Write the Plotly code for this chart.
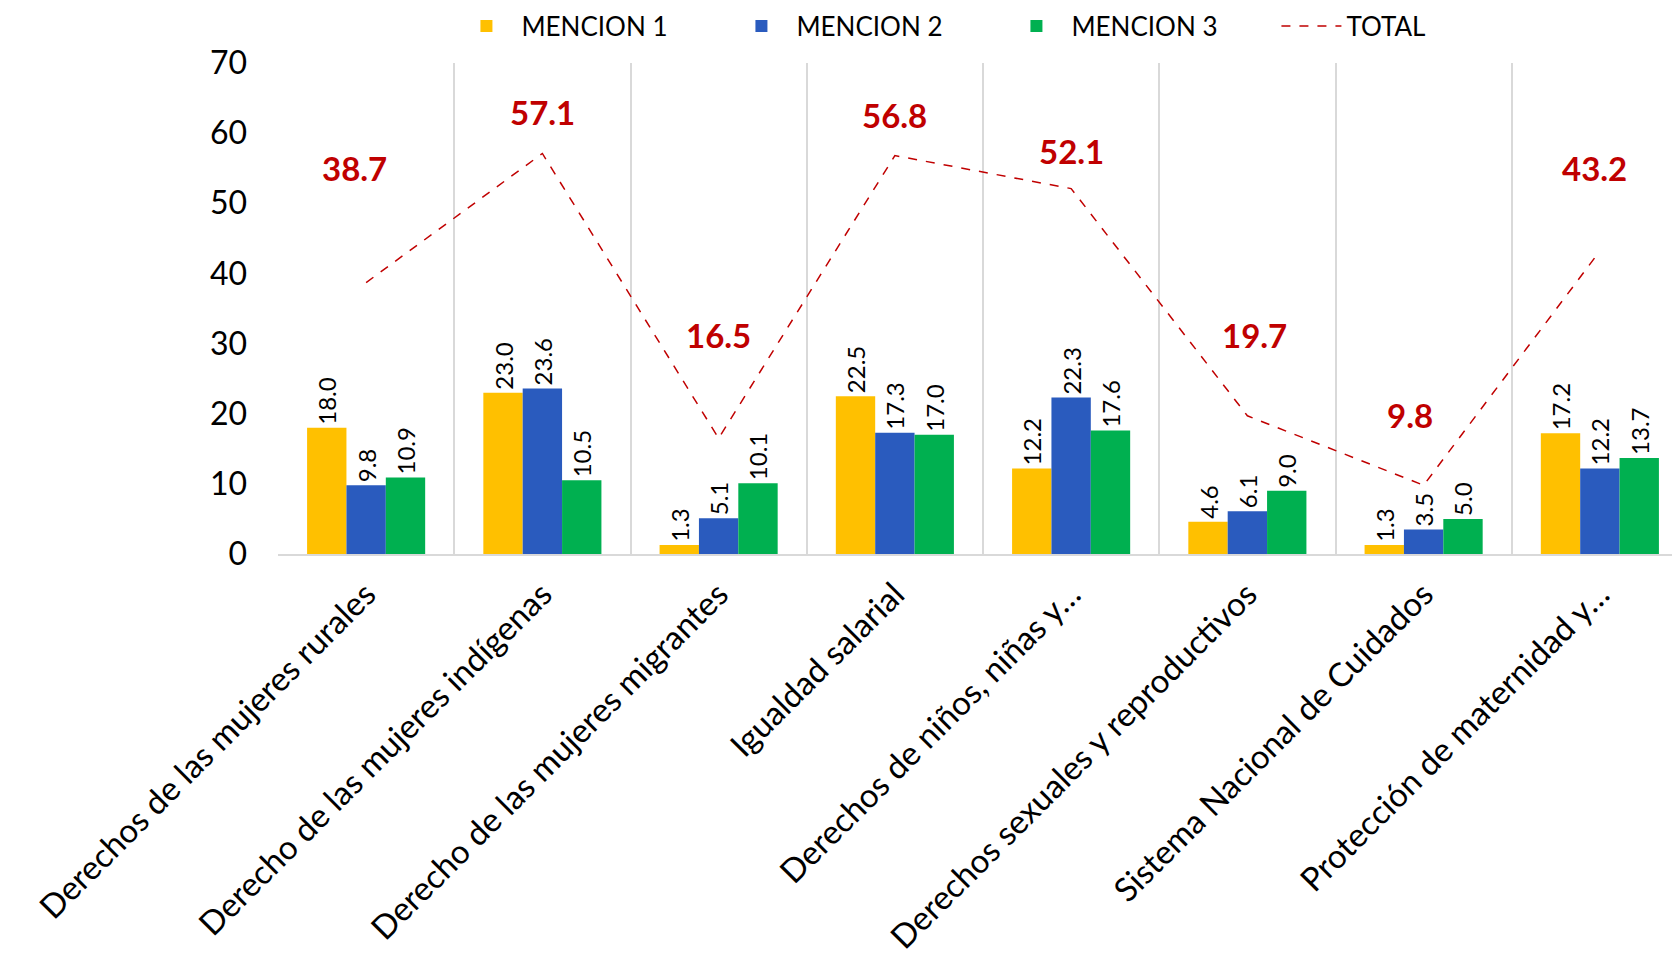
import plotly.graph_objects as go

# datos
categorias = ["Derechos de las mujeres rurales", "Derecho de las mujeres indígenas",
              "Derecho de las mujeres migrantes", "Igualdad salarial",
              "Derechos de niños, niñas y…", "Derechos sexuales y reproductivos",
              "Sistema Nacional de Cuidados", "Protección de maternidad y…"]
mencion_1 = [18.0, 23.0, 1.3, 22.5, 12.2, 4.6, 1.3, 17.2]
mencion_2 = [9.8, 23.6, 5.1, 17.3, 22.3, 6.1, 3.5, 12.2]
mencion_3 = [10.9, 10.5, 10.1, 17.0, 17.6, 9.0, 5.0, 13.7]
total = [38.7, 57.1, 16.5, 56.8, 52.1, 19.7, 9.8, 43.2]

# desplazamiento (px) de las etiquetas del total
desp_y = [115, 41, 103, 41, 38, 81, 70, 83]
desp_x = [-12, 0, 0, 0, 0, 7, -14, -5]

fuente = "Lato, Carlito, Calibri, sans-serif"

fig = go.Figure()
for nombre, valores, color in [("MENCION 1", mencion_1, "#FFC000"),
                               ("MENCION 2", mencion_2, "#2A5BBE"),
                               ("MENCION 3", mencion_3, "#00B050")]:
    fig.add_trace(go.Bar(x=categorias, y=valores, name=nombre, marker_color=color,
                         marker_line_width=0,
                         text=[f"{v:.1f}" for v in valores], textposition="outside",
                         textangle=-90, cliponaxis=False, constraintext="none",
                         textfont=dict(size=24, color="black", family=fuente)))

fig.add_trace(go.Scatter(x=categorias, y=total, name="TOTAL", mode="lines",
                         line=dict(color="#C00000", width=1.5, dash="dash")))

for cat, v, dy, dx in zip(categorias, total, desp_y, desp_x):
    fig.add_annotation(x=cat, y=v, text=f"<b>{v:.1f}</b>", showarrow=False,
                       yshift=dy, xshift=dx,
                       font=dict(size=33, color="#C00000", family=fuente))

fig.update_layout(
    width=1680, height=969,
    margin=dict(l=270, r=0, t=55, b=423, autoexpand=False),
    plot_bgcolor="white", paper_bgcolor="white",
    barmode="group", bargap=0.33, bargroupgap=0,
    font=dict(family=fuente, color="black"),
    legend=dict(orientation="h", x=0.123, xanchor="left", y=1.075, yanchor="middle",
                font=dict(size=26), entrywidth=200, itemwidth=60,
                traceorder="normal"),
    showlegend=True,
)
fig.update_xaxes(type="category", range=[-0.5, 7.5], tickangle=-45,
                 tickson="boundaries", showgrid=True, gridcolor="#D9D9D9", gridwidth=2,
                 showline=True, linecolor="#D9D9D9", linewidth=2, ticks="",
                 tickfont=dict(size=33), ticklabelstandoff=6)
fig.update_yaxes(range=[0, 70], dtick=10, showgrid=False, zeroline=False,
                 showline=False, tickfont=dict(size=32), ticklabelstandoff=30)

fig.write_html("out.html")
